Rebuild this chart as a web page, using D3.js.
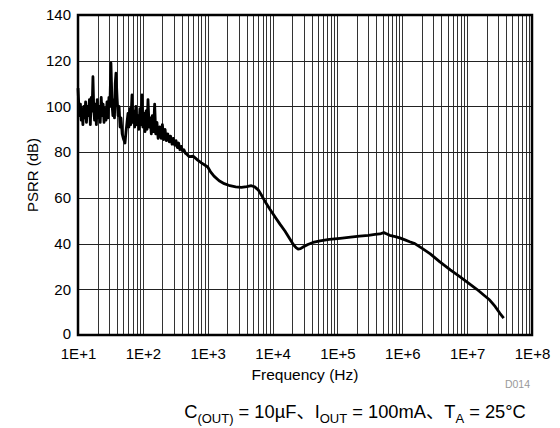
<!DOCTYPE html>
<html>
<head>
<meta charset="utf-8">
<script src="https://cdn.jsdelivr.net/npm/d3@7"></script>
<style>
  body { margin: 0; background: #fff; }
  text { font-family: "Liberation Sans", Arial, "Noto Sans CJK JP", sans-serif; }
</style>
</head>
<body>
<div id="chart"></div>
<script>
// frequency points (Hz)
var freqHz = [10, 10.3, 10.6, 10.9, 11.2, 11.5, 11.9, 12.3, 12.7, 13.1, 13.5, 14, 14.5, 15, 15.5, 16, 16.5, 17, 17.5, 18,
  18.6, 19.2, 19.8, 20.5, 21.2, 22, 22.8, 23.6, 24.4, 25.2, 26, 27, 28, 29, 30, 31, 32.2, 33.5, 34.5, 35.5,
  36.5, 37.5, 38.5, 40, 41.5, 43, 44.5, 46, 48, 50, 53, 55, 57, 59, 61, 63, 65, 68, 70, 72,
  75, 78, 81, 84, 87, 90, 93, 97, 100, 104, 108, 112, 116, 120, 125, 130, 135, 140, 146, 152,
  158, 165, 172, 183, 192, 200, 210, 220, 230, 242, 255, 268, 282, 296, 310, 325, 340, 356, 372, 390,
  410, 430, 455, 480, 520, 600, 700, 800, 1000, 1100, 1250, 1500, 1800, 2200, 2700, 3300, 4000, 4700, 5300, 6000,
  6800, 8000, 9100, 11000, 13000, 15500, 18500, 21000, 23000, 24800, 27000, 30000, 35000, 42000, 54000, 75000, 110000, 160000, 220000, 300000,
  380000, 450000, 520000, 580000, 640000, 780000, 910000, 1100000, 1300000, 1560000, 2000000, 2700000, 3800000, 5500000, 7700000, 10500000, 14100000, 18000000, 22300000, 27000000,
  32000000, 36600000];

// PSRR (dB) at each frequency point
var psrrDb = [108, 100, 96, 101, 94, 99, 92, 100, 95, 102, 93, 100, 96, 103, 92, 104, 98, 113, 99, 94,
  101, 92, 103, 95, 100, 93, 104, 96, 101, 93, 99, 94, 102, 95, 104, 100, 119, 101, 96, 103,
  95, 110, 114.6, 104, 96, 100, 91, 95, 88, 86, 84, 89, 93, 97, 91, 99, 92, 105, 93, 98,
  91, 100, 92, 96, 90, 99, 92, 105, 91, 97, 89, 98, 90, 103, 91, 95, 88, 96, 89, 101,
  88, 93, 86, 91, 86, 92, 85.5, 90, 85, 88, 84.5, 87, 83.5, 86, 83, 85, 82, 84, 81, 82.5,
  80.5, 81, 79.5, 79, 78, 78.2, 76.5, 75.3, 73.5, 71.5, 69.5, 67.5, 66.2, 65.3, 64.8, 64.6, 64.9, 65.3, 64.8, 63.5,
  61, 57.5, 55, 51.5, 48.5, 45.5, 42, 39.5, 38.2, 37.6, 37.8, 38.6, 39.6, 40.5, 41.2, 41.8, 42.3, 42.8, 43.3, 43.6,
  44, 44.2, 44.8, 44.2, 43.6, 43, 42.5, 41.6, 40.8, 40, 38, 35.5, 32, 28.5, 25.5, 22.7, 20, 17.5, 15.3, 12.5,
  9.5, 7.4];

var yTicks = [0, 20, 40, 60, 80, 100, 120, 140];
var xDecades = [1e1, 1e2, 1e3, 1e4, 1e5, 1e6, 1e7, 1e8];
var xTickLabels = ["1E+1", "1E+2", "1E+3", "1E+4", "1E+5", "1E+6", "1E+7", "1E+8"];

var margin = {top: 15, right: 28, bottom: 93, left: 78},
    width = 560 - margin.left - margin.right,
    height = 428 - margin.top - margin.bottom;

var svg = d3.select("#chart")
  .append("svg")
    .attr("width", 560)
    .attr("height", 428);

var g = svg.append("g")
    .attr("transform", "translate(" + margin.left + "," + margin.top + ")");

var x = d3.scaleLog()
  .domain([10, 1e8])
  .range([0, width]);

var y = d3.scaleLinear()
  .domain([0, 140])
  .range([height, 0]);

// minor + major vertical grid lines (1..9 per decade)
var gridX = [];
xDecades.slice(0, -1).forEach(function(d) {
  for (var k = 1; k < 10; k++) gridX.push(d * k);
});
gridX.push(1e8);

g.selectAll(".vgrid")
  .data(gridX)
  .enter()
  .append("line")
    .attr("x1", function(d) { return Math.round(x(d)) + 0.5; })
    .attr("x2", function(d) { return Math.round(x(d)) + 0.5; })
    .attr("y1", 0)
    .attr("y2", height)
    .attr("stroke", "#333")
    .attr("stroke-width", 1);

g.selectAll(".hgrid")
  .data(yTicks)
  .enter()
  .append("line")
    .attr("x1", 0)
    .attr("x2", width)
    .attr("y1", function(d) { return Math.round(y(d)) + 0.5; })
    .attr("y2", function(d) { return Math.round(y(d)) + 0.5; })
    .attr("stroke", "#222")
    .attr("stroke-width", 1);

// y axis labels
var yAxis = g.append("g")
  .call(d3.axisLeft(y).tickValues(yTicks).tickSize(0).tickPadding(7));
yAxis.select(".domain").remove();
yAxis.selectAll("text")
  .attr("font-family", "'Liberation Sans', Arial, sans-serif")
  .attr("font-size", 15)
  .attr("fill", "#000");
// nudge the bottom "0" up a little, as in the reference
yAxis.selectAll(".tick").filter(function(d) { return d === 0; })
  .select("text").attr("dy", "0.2em");

// x axis labels
var xAxis = g.append("g")
  .attr("transform", "translate(0," + height + ")")
  .call(d3.axisBottom(x).tickValues(xDecades).tickSize(0).tickPadding(13)
    .tickFormat(function(d, i) { return xTickLabels[i]; }));
xAxis.select(".domain").remove();
xAxis.selectAll("text")
  .attr("font-family", "'Liberation Sans', Arial, sans-serif")
  .attr("font-size", 15)
  .attr("fill", "#000");

// the curve
var line = d3.line()
  .x(function(d) { return x(d[0]); })
  .y(function(d) { return y(d[1]); });

g.append("path")
  .datum(freqHz.map(function(f, i) { return [f, psrrDb[i]]; }))
  .attr("d", line)
  .attr("fill", "none")
  .attr("stroke", "#000")
  .attr("stroke-width", 2.8)
  .attr("stroke-linejoin", "round");

// frame
g.append("rect")
  .attr("x", 0)
  .attr("y", 0)
  .attr("width", width)
  .attr("height", height)
  .attr("fill", "none")
  .attr("stroke", "#000")
  .attr("stroke-width", 2.5);

// axis titles
svg.append("text")
  .attr("transform", "translate(38," + (margin.top + height / 2) + ") rotate(-90)")
  .attr("text-anchor", "middle")
  .attr("font-size", 15)
  .text("PSRR (dB)");

svg.append("text")
  .attr("x", margin.left + width / 2)
  .attr("y", 380)
  .attr("text-anchor", "middle")
  .attr("font-size", 15.5)
  .text("Frequency (Hz)");

svg.append("text")
  .attr("x", 530)
  .attr("y", 388)
  .attr("text-anchor", "end")
  .attr("font-size", 10.5)
  .attr("fill", "#999")
  .text("D014");

// condition caption with subscripts
var cap = svg.append("text")
  .attr("x", 355)
  .attr("y", 418)
  .attr("text-anchor", "middle")
  .attr("font-size", 18.3);
var parts = [
  ["C", 0], ["(OUT)", 1], [" = 10\u00B5F\u3001I", 0], ["OUT", 1],
  [" = 100mA\u3001T", 0], ["A", 1], [" = 25\u00B0C", 0]
];
var prevSub = 0;
parts.forEach(function(p) {
  var dy = p[1] === prevSub ? 0 : (p[1] ? 5 : -5);
  cap.append("tspan")
    .attr("dy", dy)
    .attr("font-size", p[1] ? 13 : 18.3)
    .text(p[0]);
  prevSub = p[1];
});
</script>
</body>
</html>
